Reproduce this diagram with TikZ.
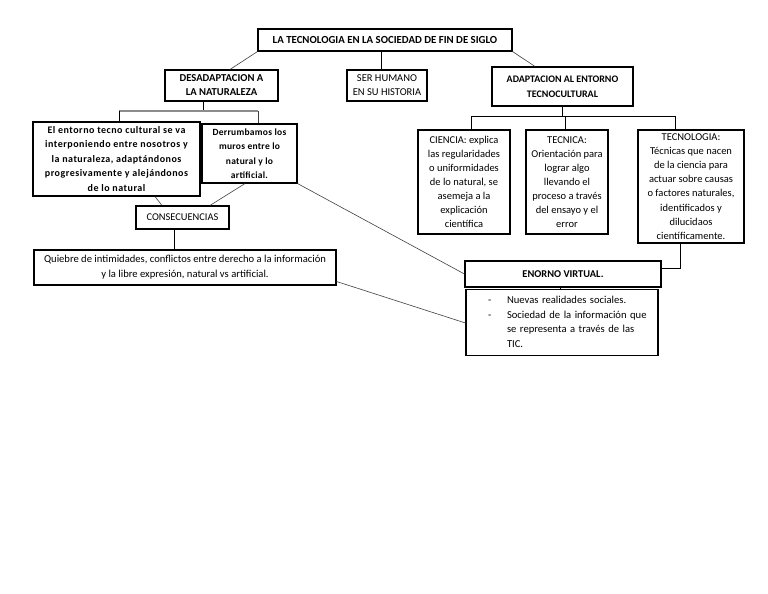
\documentclass[tikz,border=0pt]{standalone}
\usepackage{fontspec}
\setmainfont{Carlito}
\usetikzlibrary{calc}
\begin{document}
\begin{tikzpicture}[x=1pt,y=-1pt,
  box/.style={draw=black,line width=1.1pt,inner sep=1pt,align=center,font=\fontsize{10.5}{14.1}\selectfont},
  conn/.style={draw=black!75,line width=0.6pt},
  bconn/.style={draw=black,line width=0.9pt}]
\useasboundingbox[fill=white] (0,0) rectangle (768,594);
\node[box,minimum width=254pt,minimum height=22pt,font=\fontsize{10.8}{12}\selectfont\bfseries] (title) at (385,40) {LA TECNOLOGIA EN LA SOCIEDAD DE FIN DE SIGLO};
\node[box,minimum width=113pt,minimum height=31pt,font=\fontsize{10.6}{14}\selectfont\bfseries] (desad) at (221.5,85.5) {DESADAPTACION A\\LA NATURALEZA};
\node[box,minimum width=80pt,minimum height=31pt,font=\fontsize{10.5}{14}\selectfont] (ser) at (387,85.5) {SER HUMANO\\EN SU HISTORIA};
\node[box,minimum width=141pt,minimum height=39pt,font=\fontsize{10}{15}\selectfont\bfseries] (adap) at (562.5,86.5) {ADAPTACION AL ENTORNO\\TECNOCULTURAL};
\node[box,minimum width=167pt,minimum height=74pt,font=\fontsize{10}{14.5}\selectfont\bfseries\addfontfeature{LetterSpace=5}] (entorno) at (116.5,159) {El entorno tecno cultural se va\\interponiendo entre nosotros y\\la naturaleza, adaptándonos\\progresivamente y alejándonos\\de lo natural};
\node[box,minimum width=95pt,minimum height=59pt,font=\fontsize{9.5}{14.5}\selectfont\bfseries\addfontfeature{LetterSpace=3}] (derrum) at (249.5,153.5) {Derrumbamos los\\muros entre lo\\natural y lo\\artificial.};
\node[box,minimum width=93pt,minimum height=23pt,font=\fontsize{10.4}{12}\selectfont] (conse) at (182.5,217.5) {CONSECUENCIAS};
\node[box,minimum width=302pt,minimum height=35pt,font=\fontsize{10.6}{15}\selectfont] (quiebre) at (185,267.5) {Quiebre de intimidades, conflictos entre derecho a la información\\y la libre expresión, natural vs artificial.};
\node[box,minimum width=92pt,minimum height=104pt] (ciencia) at (464,182) {CIENCIA: explica\\las regularidades\\o uniformidades\\de lo natural, se\\asemeja a la\\explicación\\científica};
\node[box,minimum width=82pt,minimum height=104pt] (tecnica) at (567,182) {TECNICA:\\Orientación para\\lograr algo\\llevando el\\proceso a través\\del ensayo y el\\error};
\node[box,minimum width=106pt,minimum height=113pt] (tecnologia) at (691,186.5) {TECNOLOGIA:\\Técnicas que nacen\\de la ciencia para\\actuar sobre causas\\o factores naturales,\\identificados y\\dilucidaos\\científicamente.};
\node[box,minimum width=196pt,minimum height=26pt,font=\fontsize{10.4}{12}\selectfont\bfseries] (enorno) at (563,274) {ENORNO VIRTUAL.};
\node[box,minimum width=192pt,minimum height=63pt,text width=184pt,align=left,inner sep=4pt,font=\fontsize{10.6}{14.6}\selectfont] (nuevas) at (562,322.5) {%
  \begin{tabular}{@{\hspace{18pt}}p{19pt}@{}l@{}}
  - & Nuevas realidades sociales.\\
  - & Sociedad de la información que\\
    & se representa a través de las\\
    & TIC.
  \end{tabular}};
% connectors
\draw[conn] (title.south west) -- ($(desad.north)+(8.5,0)$);
\draw[bconn] (title.south -| 381,0) -- (ser.north -| 381,0);
\draw[conn] (title.south east) -- ($(adap.north)+(-27.5,0)$);
\coordinate (dj) at (203,111);
\draw[bconn] (desad.south -| dj) -- (dj);
\draw[draw=black!45,line width=1.2pt] (119,111) -- (258,111);
\draw[bconn] (119,111) -- (entorno.north -| 119,0);
\draw[conn] (258,111) -- (derrum.north -| 258,0);
\draw[conn] ($(entorno.south)+(38.5,0)$) -- ($(conse.north)+(-20.5,0)$);
\draw[conn] ($(derrum.south)+(-4.5,0)$) -- ($(conse.north)+(27.5,0)$);
\draw[conn] (derrum.south east) -- (enorno.west);
\draw[bconn] (conse.south -| 174,0) -- (quiebre.north -| 174,0);
\draw[conn] ($(quiebre.east)+(0,14)$) -- ($(nuevas.west)+(0,0.5)$);
\coordinate (aj) at (562,116);
\draw[bconn] (adap.south -| aj) -- (aj);
\draw[bconn] (471,116) -- (675,116);
\draw[bconn] (471,116) -- (ciencia.north -| 471,0);
\draw[bconn] (565,116) -- (tecnica.north -| 565,0);
\draw[bconn] (675,116) -- (tecnologia.north -| 675,0);
\draw[bconn] (tecnologia.south -| 680,0) |- ($(enorno.east)+(0,-6)$);
\draw[bconn] (enorno.south -| 560,0) -- (nuevas.north -| 560,0);
\end{tikzpicture}
\end{document}
